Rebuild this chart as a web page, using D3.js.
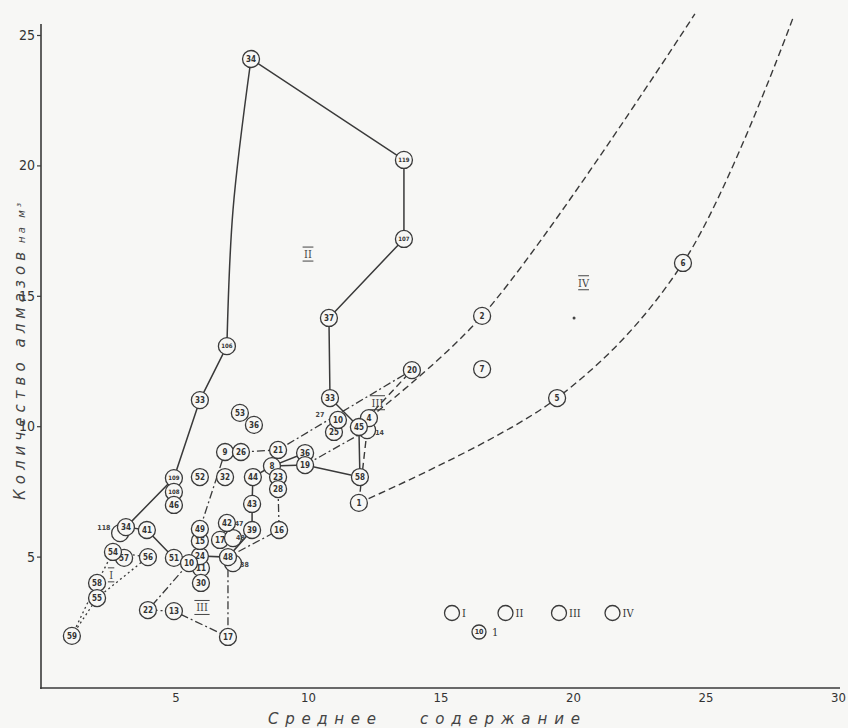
<!DOCTYPE html>
<html>
<head>
<meta charset="utf-8">
<script src="https://cdn.jsdelivr.net/npm/d3@7"></script>
<style>
  body { margin: 0; background: #f7f7f5; }
  svg { display: block; }
</style>
</head>
<body>
<svg width="848" height="728"></svg>
<script>
const xTicks = [5, 10, 15, 20, 25, 30];
const yTicks = [5, 10, 15, 20, 25];

// id, label, average content, diamonds per m3
const points = [
  ['34T', '34', 7.85, 24.08], ['119', '119', 13.62, 20.21], ['107', '107', 13.62, 17.18],
  ['37', '37', 10.79, 14.15], ['33R', '33', 10.83, 11.08], ['106', '106', 6.94, 13.07],
  ['33L', '33', 5.92, 11.0], ['109', '109', 4.94, 8.01], ['108', '108', 4.94, 7.48],
  ['46', '46', 4.94, 6.98], ['34Lb', '', 2.91, 5.9], ['34L', '34', 3.13, 6.13],
  ['41', '41', 3.92, 6.02], ['51', '51', 4.94, 4.95], ['11', '11', 5.96, 4.56],
  ['24', '24', 5.92, 5.02], ['48b', '', 7.17, 4.75], ['48', '48', 6.98, 4.98],
  ['39', '39', 7.89, 6.02], ['43', '43', 7.89, 7.02], ['44', '44', 7.92, 8.05],
  ['8', '8', 8.64, 8.47], ['36R', '36', 9.89, 8.97], ['19', '19', 9.89, 8.51],
  ['58R', '58', 11.96, 8.05], ['4b', '', 12.23, 9.85], ['4', '4', 12.3, 10.31],
  ['45', '45', 11.92, 9.97], ['25', '25', 10.98, 9.78], ['10', '10', 11.13, 10.24],
  ['53', '53', 7.43, 10.51], ['36L', '36', 7.96, 10.05], ['52', '52', 5.92, 8.05],
  ['32', '32', 6.87, 8.05], ['9', '9', 6.87, 9.01], ['26', '26', 7.47, 9.01],
  ['21', '21', 8.87, 9.09], ['23', '23', 8.87, 8.05], ['28', '28', 8.87, 7.59],
  ['16', '16', 8.91, 6.02], ['17b', '17', 6.68, 5.64], ['18b', '', 7.17, 5.71],
  ['42', '42', 6.94, 6.29], ['15', '15', 5.92, 5.6], ['49', '49', 5.92, 6.06],
  ['30', '30', 5.96, 3.99], ['10s', '10', 5.51, 4.75], ['22', '22', 3.96, 2.95],
  ['13', '13', 4.94, 2.91], ['17', '17', 6.98, 1.92], ['59', '59', 1.09, 1.96],
  ['58L', '58', 2.04, 3.99], ['55', '55', 2.04, 3.41], ['57', '57', 3.06, 4.95],
  ['54', '54', 2.64, 5.18], ['56', '56', 3.96, 4.98], ['20', '20', 13.92, 12.15],
  ['2', '2', 16.57, 14.23], ['7', '7', 16.57, 12.19], ['6', '6', 24.15, 16.26],
  ['5', '5', 19.4, 11.08], ['1', '1', 11.92, 7.06]
];

// bends and open ends of lines (no circle)
const bends = [['bend34', 7.17, 18.29], ['top2', 24.6, 25.81], ['top6', 28.3, 25.65]];

const solidPaths = [
  ['34L', '109', '33L', '106'],
  ['34T', '119', '107', '37', '33R', '45', '58R'],
  ['58R', '19', '8', '44', '43', '39', '48', '24', '51', '41', '34L'],
  ['8', '36R']
];
const solidCurves = [['106', 'bend34', '34T']];
const dashDotPaths = [
  ['10s', '22', '13', '17', '48', '16', '28'],
  ['49', '9'],
  ['26', '21', '20'],
  ['19', '4b']
];
const dashedPaths = [
  ['4', '2', 'top2'],
  ['4b', '1'],
  ['1', '5', '6', 'top6'],
  ['45', '20']
];
const dottedPaths = [
  ['59', '58L', '54'],
  ['59', '55', '56'],
  ['54', '56']
];

// small notes beside circles: text, x, y
const notes = [
  ['47', 7.4, 6.25], ['48', 7.45, 5.72], ['38', 7.6, 4.7],
  ['27', 10.45, 10.45], ['14', 12.7, 9.75], ['118', 2.3, 6.1]
];
// group numerals: text, x, y
const groupLabels = [
  ['II', 10.0, 16.6], ['III', 12.62, 10.9], ['III', 6.0, 3.05],
  ['I', 2.57, 4.3], ['IV', 20.4, 15.5]
];
const legendItems = ['I', 'II', 'III', 'IV'];

const svg = d3.select('svg');
const ink = '#3a3a3a';

const x = d3.scaleLinear().domain([0, 30]).range([43, 838]);
const y = d3.scaleLinear().domain([0, 25]).range([687, 35]);

const pos = {};
points.forEach(function (p) { pos[p[0]] = [p[2], p[3]]; });
bends.forEach(function (p) { pos[p[0]] = [p[1], p[2]]; });

// axes
const yAxis = svg.append('g')
  .attr('transform', 'translate(41,0)')
  .call(d3.axisLeft(y).tickValues(yTicks).tickSize(4).tickPadding(2));
yAxis.select('.domain').remove();
yAxis.append('line').attr('y1', 24).attr('y2', 689).attr('stroke', ink).attr('stroke-width', 1.6);

const xAxis = svg.append('g')
  .attr('transform', 'translate(0,688)')
  .call(d3.axisBottom(x).tickValues(xTicks).tickSize(0).tickPadding(5));
xAxis.select('.domain').remove();
xAxis.append('line').attr('x1', 40).attr('x2', 840).attr('stroke', ink).attr('stroke-width', 1.6);

svg.selectAll('.tick line').attr('stroke', ink).attr('stroke-width', 1.2);
yAxis.selectAll('.tick text')
  .attr('fill', '#333')
  .style('font-family', 'DejaVu Sans Condensed')
  .style('font-size', '14px');
xAxis.selectAll('.tick text')
  .attr('fill', '#333')
  .style('font-family', 'DejaVu Sans Condensed')
  .style('font-size', '13px');

// axis titles
const titleStyle = function (sel, size) {
  sel.attr('fill', '#444')
    .style('font-family', 'DejaVu Sans')
    .style('font-style', 'italic')
    .style('font-size', size);
};
svg.append('text')
  .attr('transform', 'translate(25,500) rotate(-90)')
  .attr('textLength', 248)
  .attr('lengthAdjust', 'spacing')
  .call(titleStyle, '15px')
  .text('Количество алмазов');
svg.append('text')
  .attr('transform', 'translate(25,243) rotate(-90)')
  .attr('textLength', 40)
  .attr('lengthAdjust', 'spacing')
  .call(titleStyle, '10px')
  .text('на м³');

svg.append('text')
  .attr('x', 268).attr('y', 724)
  .attr('textLength', 108)
  .attr('lengthAdjust', 'spacing')
  .call(titleStyle, '15px')
  .text('Среднее');
svg.append('text')
  .attr('x', 420).attr('y', 724)
  .attr('textLength', 160)
  .attr('lengthAdjust', 'spacing')
  .call(titleStyle, '15px')
  .text('содержание');

// connecting lines
function drawPaths(list, dash, width, curve) {
  const line = d3.line()
    .x(function (id) { return x(pos[id][0]); })
    .y(function (id) { return y(pos[id][1]); })
    .curve(curve || d3.curveLinear);
  svg.append('g').selectAll('path')
    .data(list)
    .enter()
    .append('path')
    .attr('d', line)
    .attr('fill', 'none')
    .attr('stroke', ink)
    .attr('stroke-width', width)
    .attr('stroke-dasharray', dash);
}
drawPaths(solidPaths, null, 1.5);
drawPaths(solidCurves, null, 1.5, d3.curveCatmullRom);
drawPaths(dashDotPaths, '8,3,2,3', 1.3);
drawPaths(dashedPaths, '7,4', 1.4, d3.curveCatmullRom);
drawPaths(dottedPaths, '2,3', 1.3);

// circles with numbers
const nodes = svg.append('g').selectAll('g')
  .data(points)
  .enter()
  .append('g')
  .attr('transform', function (d) { return 'translate(' + x(d[2]) + ',' + y(d[3]) + ')'; });

nodes.append('circle')
  .attr('r', 8.5)
  .attr('fill', '#f7f7f5')
  .attr('stroke', ink)
  .attr('stroke-width', 1.3);

nodes.append('text')
  .text(function (d) { return d[1]; })
  .attr('text-anchor', 'middle')
  .attr('dy', '0.35em')
  .attr('fill', '#333')
  .style('font-family', 'DejaVu Sans Condensed')
  .style('font-weight', 'bold')
  .style('font-size', function (d) { return d[1].length > 2 ? '6px' : '8px'; });

// a small dot inside field IV
svg.append('circle')
  .attr('cx', x(20.04)).attr('cy', y(14.15)).attr('r', 1.5).attr('fill', '#444');

svg.append('g').selectAll('text')
  .data(notes)
  .enter()
  .append('text')
  .attr('x', function (d) { return x(d[1]); })
  .attr('y', function (d) { return y(d[2]); })
  .attr('dy', '0.35em')
  .attr('text-anchor', 'middle')
  .attr('fill', '#444')
  .style('font-family', 'DejaVu Sans Condensed')
  .style('font-weight', 'bold')
  .style('font-size', '7px')
  .text(function (d) { return d[0]; });

// roman numerals with bars above and below
const gl = svg.append('g').selectAll('g')
  .data(groupLabels)
  .enter()
  .append('g')
  .attr('transform', function (d) { return 'translate(' + x(d[1]) + ',' + y(d[2]) + ')'; });
gl.append('text')
  .attr('text-anchor', 'middle')
  .attr('dy', '0.35em')
  .attr('fill', '#444')
  .style('font-family', 'DejaVu Serif Condensed')
  .style('font-size', '11px')
  .text(function (d) { return d[0]; });
gl.append('line')
  .attr('x1', function (d) { return -d[0].length * 2.2 - 1; })
  .attr('x2', function (d) { return d[0].length * 2.2 + 1; })
  .attr('y1', -7).attr('y2', -7)
  .attr('stroke', '#444').attr('stroke-width', 1);
gl.append('line')
  .attr('x1', function (d) { return -d[0].length * 2.2 - 1; })
  .attr('x2', function (d) { return d[0].length * 2.2 + 1; })
  .attr('y1', 7).attr('y2', 7)
  .attr('stroke', '#444').attr('stroke-width', 1);

// legend
const legend = svg.append('g').attr('transform', 'translate(452,613)');
const li = legend.selectAll('g')
  .data(legendItems)
  .enter()
  .append('g')
  .attr('transform', function (d, i) { return 'translate(' + (i * 53.5) + ',0)'; });
li.append('circle')
  .attr('r', 7.5)
  .attr('fill', 'none')
  .attr('stroke', ink)
  .attr('stroke-width', 1.3);
li.append('text')
  .attr('x', 10)
  .attr('dy', '0.35em')
  .attr('fill', '#333')
  .style('font-family', 'DejaVu Serif Condensed')
  .style('font-size', '11px')
  .text(function (d) { return d; });

const l2 = legend.append('g').attr('transform', 'translate(27,19)');
l2.append('circle').attr('r', 7).attr('fill', 'none').attr('stroke', ink).attr('stroke-width', 1.3);
l2.append('text').attr('text-anchor', 'middle').attr('dy', '0.35em').attr('fill', '#333')
  .style('font-family', 'DejaVu Sans Condensed').style('font-weight', 'bold').style('font-size', '7px')
  .text('10');
l2.append('text').attr('x', 13).attr('dy', '0.35em').attr('fill', '#333')
  .style('font-family', 'DejaVu Serif Condensed').style('font-size', '11px').text('1');
</script>
</body>
</html>
